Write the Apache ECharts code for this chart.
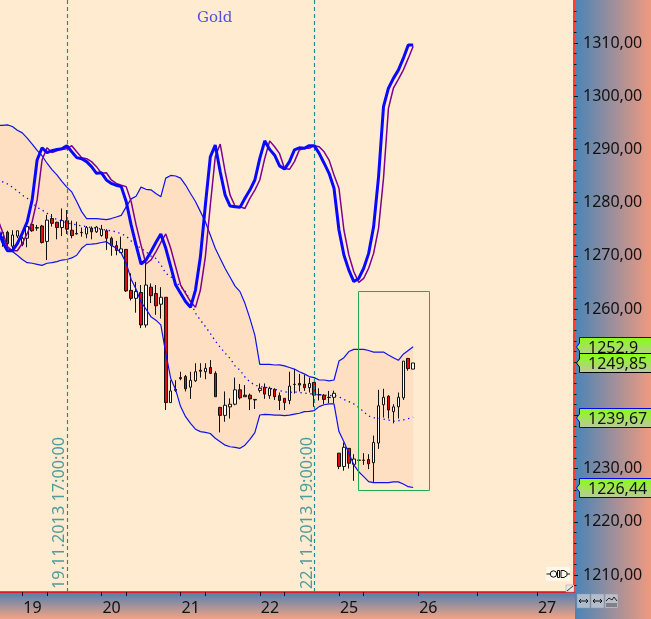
<!DOCTYPE html>
<html><head><meta charset="utf-8">
<style>html,body{margin:0;padding:0;background:#ffecd0}#c{width:651px;height:619px}</style>
<script src="https://cdn.jsdelivr.net/npm/echarts@6/dist/echarts.min.js"></script>
</head><body><div id="c"></div>
<script>
const title = 'Gold';
// one slot per candle step; first slot lies just off the left edge
const daySlots = {5:'19',21:'20',37:'21',53:'22',69:'25',85:'26',109:'27'};
const tickSlots = [5,10,21,26,37,42,53,58,69,74,85,97,109];
const slotCount = 117;
// [open, close, low, high]
const candles = [
['-','-','-','-'],
[1272.65,1274.4,1271.7,1274.4],[1274.4,1272.3,1271.4,1274.7],[1271.8,1273.9,1271.1,1274.8],[1273.7,1274.7,1273.3,1274.7],
[1272.15,1273.3,1271.8,1273.6],[1273.3,1275.5,1271.6,1275.8],[1275.9,1274.7,1274.5,1276.1],[1275.3,1275.2,1274.7,1275.8],
[1275.6,1272.5,1272.3,1275.8],[1272.7,1276.7,1269.2,1277.7],[1277.0,1276.1,1275.5,1277.85],[1276.3,1275.3,1273.1,1276.4],
[1275.3,1276.6,1273.7,1278.9],[1276.6,1275.0,1274.1,1278.6],[1274.8,1273.8,1273.3,1276.6],[1274.2,1274.1,1274.0,1276.4],
[1274.4,1274.35,1273.6,1275.3],[1274.1,1275.3,1273.3,1275.6],[1275.2,1274.5,1273.1,1275.5],[1274.5,1275.4,1274.3,1275.6],
[1273.8,1275.0,1273.6,1275.8],[1274.7,1273.3,1271.1,1275.0],[1273.3,1271.9,1270.0,1273.6],[1271.9,1271.0,1270.1,1272.8],
[1270.6,1271.3,1270.5,1273.6],[1271.2,1263.4,1263.2,1271.2],[1263.5,1262.0,1261.6,1266.7],[1262.0,1263.3,1259.3,1265.1],
[1263.1,1257.0,1256.4,1264.5],[1257.0,1264.5,1256.5,1269.2],[1264.1,1262.5,1261.1,1264.8],[1262.9,1260.6,1258.9,1264.5],
[1260.9,1262.2,1258.2,1264.1],[1262.2,1242.4,1241.0,1262.2],[1242.4,1244.6,1242.4,1246.6],[1244.9,1244.7,1244.4,1246.6],
[1247.1,1246.9,1246.6,1248.2],[1247.3,1245.0,1244.5,1247.6],[1245.3,1246.6,1243.1,1248.2],[1246.5,1248.2,1246.3,1249.8],
[1248.5,1248.3,1247.1,1249.8],[1248.2,1248.85,1246.8,1249.8],[1249.0,1247.9,1247.8,1250.4],[1247.9,1243.5,1243.5,1248.3],
[1241.5,1240.0,1236.8,1241.6],[1240.0,1241.9,1238.8,1244.5],[1241.6,1242.1,1239.4,1243.2],[1242.1,1244.8,1241.9,1247.1],
[1244.8,1243.3,1243.0,1245.9],[1243.8,1243.5,1243.5,1245.7],[1243.8,1243.1,1241.0,1244.1],[1243.0,1242.9,1241.2,1243.0],
[1244.7,1245.1,1244.3,1246.0],[1245.3,1244.0,1243.1,1246.0],[1243.7,1245.1,1243.1,1245.4],[1244.9,1243.5,1242.9,1245.1],
[1243.7,1242.8,1241.0,1244.3],[1243.2,1242.4,1241.0,1243.2],[1242.8,1245.5,1242.1,1248.2],[1245.85,1245.8,1244.1,1248.7],
[1246.0,1245.7,1244.5,1247.8],[1245.85,1245.2,1244.6,1247.6],[1245.2,1246.0,1244.3,1247.1],[1246.2,1243.8,1241.6,1246.2],
[1243.9,1243.85,1242.8,1245.1],[1243.8,1243.0,1242.1,1244.0],[1243.4,1243.35,1242.3,1244.6],[1243.4,1244.15,1242.3,1244.65],
[1232.9,1230.4,1229.9,1232.9],[1230.4,1234.0,1229.6,1234.9],[1233.8,1231.0,1230.0,1233.8],[1230.8,1231.8,1227.7,1232.7],
[1231.6,1231.55,1231.3,1231.9],[1231.6,1231.55,1230.7,1232.9],[1231.7,1230.9,1229.9,1232.7],[1231.1,1234.9,1227.5,1236.2],
[1234.8,1241.8,1233.7,1244.8],[1242.0,1243.4,1239.6,1245.0],[1243.6,1241.0,1239.4,1243.8],[1240.7,1241.6,1238.5,1242.1],
[1241.6,1243.4,1239.4,1244.3],[1243.3,1250.2,1242.9,1250.2],[1250.7,1248.8,1248.4,1250.8],[1248.7,1249.85,1248.7,1249.85]
];
const upperBand = [1294.5,1294.5,1294.6,1294.3,1293.6,1293.1,1292.1,1291.0,1289.8,1288.8,1287.4,1286.2,1285.2,1284.0,1282.9,1282.0,1280.2,1278.3,1277.0,1277.0,1277.0,1276.9,1276.8,1277.0,1277.3,1277.6,1279.2,1280.7,1281.2,1282.9,1282.5,1282.4,1281.7,1281.1,1284.6,1285.1,1285.0,1284.6,1283.3,1281.7,1280.2,1278.3,1276.4,1273.9,1271.4,1269.5,1267.6,1265.95,1264.3,1263.26,1261.06,1258.24,1255.1,1249.6,1249.6,1249.6,1249.47,1249.5,1249.3,1249.0,1248.7,1248.2,1247.8,1247.3,1247.1,1246.65,1246.65,1246.5,1246.65,1250.2,1250.85,1252.0,1252.4,1252.4,1252.4,1252.2,1251.9,1251.9,1251.9,1251.35,1250.85,1250.35,1251.5,1252.2,1252.9];
const lowerBand = [1274.8,1273.5,1271.7,1270.8,1270.1,1269.3,1268.7,1268.6,1268.4,1268.2,1268.6,1268.7,1268.9,1269.2,1269.3,1269.6,1270.1,1271.4,1272.15,1272.2,1272.3,1272.5,1272.65,1272.0,1271.4,1270.5,1268.6,1265.6,1263.7,1261.3,1260.0,1258.55,1257.9,1257.0,1251.7,1246.95,1244.8,1241.65,1239.75,1238.5,1237.4,1236.95,1236.8,1236.6,1235.7,1235.05,1234.4,1234.1,1234.0,1233.8,1234.4,1235.5,1236.75,1240.07,1240.2,1240.15,1240.05,1240.05,1239.95,1240.05,1240.25,1240.4,1240.7,1240.75,1240.9,1241.65,1242.0,1242.15,1242.15,1236.95,1235.05,1232.9,1230.7,1229.4,1228.5,1227.55,1227.35,1227.35,1227.35,1227.35,1227.5,1227.5,1227.1,1226.6,1226.44];
const midBand = [1284.3,1283.9,1283.5,1282.9,1282.2,1281.4,1280.8,1280.0,1279.1,1278.6,1278.0,1277.3,1276.8,1276.6,1276.2,1276.0,1275.8,1275.6,1275.5,1275.3,1275.2,1275.0,1274.8,1274.7,1274.5,1274.1,1273.7,1272.8,1272.0,1271.4,1270.8,1269.95,1269.5,1268.3,1266.7,1266.1,1265.1,1264.2,1263.3,1261.4,1259.2,1257.9,1256.7,1255.4,1254.0,1252.8,1251.7,1250.7,1249.3,1248.5,1247.2,1246.3,1245.7,1245.4,1245.3,1245.1,1244.9,1244.65,1244.45,1244.3,1244.4,1244.3,1244.2,1244.1,1243.95,1243.9,1243.8,1243.7,1243.8,1243.5,1243.0,1242.6,1242.15,1241.5,1240.7,1239.9,1239.55,1239.45,1239.3,1239.15,1238.9,1239.0,1239.15,1239.4,1239.67];
const fastLine = [1275.2,1272.65,1270.95,1270.95,1272.3,1274.2,1276.4,1280.5,1288.0,1290.3,1289.4,1289.75,1290.0,1290.1,1290.7,1289.55,1288.45,1288.25,1287.7,1286.75,1285.5,1285.6,1284.25,1283.6,1283.25,1283.0,1280.2,1275.8,1272.0,1268.45,1269.2,1270.75,1272.5,1274.1,1271.4,1267.95,1264.5,1262.95,1261.4,1260.3,1263.56,1269.8,1279.5,1288.6,1290.8,1285.8,1281.4,1279.35,1279.2,1279.1,1280.8,1282.35,1284.25,1288.3,1291.6,1290.0,1288.9,1286.9,1286.3,1287.7,1289.9,1290.3,1290.2,1290.7,1290.7,1289.25,1287.4,1285.5,1282.7,1274.85,1270.15,1267.3,1265.15,1265.75,1267.65,1270.45,1275.45,1284.85,1298.05,1301.5,1303.35,1304.9,1307.1,1309.6,1309.6];
const slowLine = [1277.0,1274.5,1271.7,1270.95,1270.95,1272.3,1274.2,1276.4,1280.5,1288.0,1290.3,1289.4,1289.75,1290.0,1290.1,1290.7,1289.55,1288.45,1288.25,1287.7,1286.75,1285.5,1285.6,1284.25,1283.6,1283.25,1283.0,1280.2,1275.8,1272.0,1268.45,1269.2,1270.75,1272.5,1274.1,1271.4,1267.95,1264.5,1262.95,1261.4,1260.3,1263.56,1269.8,1279.5,1288.6,1291.0,1285.8,1281.4,1279.35,1279.2,1278.9,1280.8,1282.35,1284.25,1288.3,1291.6,1290.5,1289.2,1286.4,1286.25,1287.7,1289.9,1290.2,1290.2,1290.7,1290.5,1289.55,1288.0,1285.2,1282.7,1274.85,1270.15,1267.0,1265.0,1265.75,1267.65,1270.45,1275.15,1284.55,1297.7,1301.5,1303.15,1304.9,1307.1,1309.4];
const yMajorTicks = [1210,1220,1230,1240,1250,1260,1270,1280,1290,1300,1310];
const yLabelTicks = [1210,1220,1230,1260,1270,1280,1290,1300,1310];
const yMinorTicks = [1208,1212,1214,1216,1218,1222,1224,1226,1228,1232,1234,1236,1238,1242,1244,1246,1248,1252,1254,1256,1258,1262,1264,1266,1268,1272,1274,1276,1278,1282,1284,1286,1288,1292,1294,1296,1298,1302,1304,1306,1308,1312,1314,1316];
const priceTags = [[1252.86,'1252,9','#0000ee'],[1239.55,'1239,67','#0000ee'],[1226.35,'1226,44','#0000ee'],[1249.76,'1249,85','#000000']];
const timeMarkers = [[14,'19.11.2013 17:00:00'],[64,'22.11.2013 19:00:00']];
// [x from, x to (slot units on the hidden axis), y top, y bottom]
const forecastBox = [73.3,87.7,1263.3,1225.8];

const FONT = '"Noto Sans"';
const categories = Array.from({length:slotCount},(_,i)=>daySlots[i]||'');
const fmtY = v => v.toFixed(2).replace('.',',');
const bandBase = lowerBand;
const bandSpan = upperBand.map((v,i)=>+(v-lowerBand[i]).toFixed(2));
const G = echarts.graphic;
const chart = echarts.init(document.getElementById('c'),null,{renderer:'canvas',width:651,height:619});

const btn=(x)=>({type:'rect',shape:{x:x,y:594,width:13,height:14},style:{fill:'rgba(200,205,215,0.75)',stroke:'#8f9aaa',lineWidth:0.5},z:60});
const ln=(a,b,c,d,col)=>({type:'line',shape:{x1:a,y1:b,x2:c,y2:d},style:{stroke:col||'#111',lineWidth:1},z:61});
const poly=(pts,col)=>({type:'polyline',shape:{points:pts},style:{fill:'none',stroke:col||'#111',lineWidth:1},z:61});

chart.setOption({
  animation:false,
  backgroundColor:'#ffecd0',
  title:{text:title,left:192,top:6,textStyle:{color:'#5050e0',fontFamily:'"DejaVu Serif"',fontSize:15,fontWeight:'normal'}},
  graphic:{elements:[
    {type:'rect',shape:{x:0,y:592,width:575,height:27},z:-5,silent:true,style:{fill:new G.LinearGradient(0,0,0,1,[{offset:0,color:'#4d7fb0'},{offset:1,color:'#f4a484'}])}},
    {type:'rect',shape:{x:575,y:0,width:76,height:619},z:-5,silent:true,style:{fill:new G.LinearGradient(0,0,1,0,[{offset:0,color:'#4a84b6'},{offset:1,color:'#f09a80'}])}},
    {type:'rect',shape:{x:546,y:567,width:24,height:14},style:{fill:'#fff7ea'},z:60},
    ln(546.5,574,550.5,574),ln(567,574,570,574),
    {type:'circle',shape:{cx:553.5,cy:574,r:3.2},style:{fill:'none',stroke:'#111',lineWidth:1},z:61},
    {type:'rect',shape:{x:557.5,y:570.5,width:2,height:7},style:{fill:'none',stroke:'#111',lineWidth:1},z:61},
    poly([[561,570.5],[564,570.5],[567,572.5],[567,575.5],[564,577.5],[561,577.5],[561,570.5]]),
    {type:'rect',shape:{x:566,y:585,width:8,height:7},style:{fill:'#e8e8e8',stroke:'#999',lineWidth:0.5},z:60},
    ln(567,591,573,586,'#333'),
    btn(577),btn(591),btn(605),
    ln(579,601,588,601),ln(593,601,602,601),
    ln(581,599,579,601),ln(581,603,579,601),ln(586,599,588,601),ln(586,603,588,601),
    ln(595,599,593,601),ln(595,603,593,601),ln(600,599,602,601),ln(600,603,602,601),
    poly([[606,601],[609,598],[612,600],[614,597],[617,601]],'#222'),
    ln(606,604,617,604,'#444'),ln(606,606,617,606,'#444')
  ]},
  grid:{left:-4.94,top:0,width:578.94,height:592,containLabel:false,outerBoundsMode:'none'},
  xAxis:[
    {type:'category',data:categories,boundaryGap:true,position:'bottom',
     axisLine:{show:true,lineStyle:{color:'#ff0000',width:1.5}},
     axisTick:{show:true,alignWithLabel:true,length:4,inside:false,interval:(i)=>tickSlots.includes(i),lineStyle:{color:'#111',width:1}},
     axisLabel:{show:true,interval:(i,v)=>v!=='',align:'left',margin:8,padding:[0,0,0,1],color:'#111',fontFamily:FONT,fontSize:16,hideOverlap:false},
     splitLine:{show:false}},
    {type:'value',show:false,min:0,max:slotCount}
  ],
  yAxis:[
    {type:'value',position:'right',min:1206.8,max:1318.08,scale:true,
     axisLine:{show:true,onZero:false,lineStyle:{color:'#ff0000',width:1.5}},
     axisTick:{show:true,length:4,customValues:yMajorTicks,lineStyle:{color:'#111'}},
     axisLabel:{show:true,margin:9,verticalAlign:'middle',padding:[6,0,0,0],customValues:yLabelTicks,formatter:fmtY,color:'#111',fontFamily:FONT,fontSize:16},
     splitLine:{show:false}},
    {type:'value',position:'left',offset:-578.94,min:1206.8,max:1318.08,scale:true,
     axisLine:{show:false,onZero:false},
     axisTick:{show:true,inside:true,length:2.5,customValues:yMinorTicks,lineStyle:{color:'#111'}},
     axisLabel:{show:false},splitLine:{show:false}}
  ],
  series:[
    {type:'line',name:'base',data:bandBase,stack:'band',symbol:'none',lineStyle:{opacity:0},areaStyle:{opacity:0},z:1,silent:true},
    {type:'line',name:'span',data:bandSpan,stack:'band',symbol:'none',lineStyle:{opacity:0},areaStyle:{color:'#ffdfc2',opacity:1},z:1,silent:true},
    {type:'candlestick',data:candles,barWidth:3,z:3,silent:true,
     itemStyle:{color:'#ffffff',color0:'#e60a0a',borderColor:'#111',borderColor0:'#111',borderWidth:1}},
    {type:'line',name:'upper',data:upperBand,symbol:'none',lineStyle:{color:'#1010f0',width:1.2},z:4,silent:true},
    {type:'line',name:'lower',data:lowerBand,symbol:'none',lineStyle:{color:'#1010f0',width:1.2},z:4,silent:true},
    {type:'line',name:'mid',data:midBand,symbol:'none',lineStyle:{color:'#0000ff',width:1.3,type:[1.3,3.7]},z:4,silent:true,
     markLine:{silent:true,symbol:'none',animation:false,
       lineStyle:{color:'#1f9090',width:1.2,type:[4,3]},
       data:timeMarkers.map(m=>({xAxis:m[0],label:{show:true,formatter:m[1],position:'insideStartTop',distance:[3,-1],color:'#4f9a9c',fontFamily:FONT,fontSize:16.3}}))}},
    {type:'line',name:'slow',data:slowLine,symbol:'none',lineStyle:{color:'#800090',width:1.5},z:5,silent:true},
    {type:'line',name:'fast',data:fastLine,symbol:'none',lineStyle:{color:'#0808ff',width:3},z:6,silent:true},
    {type:'custom',name:'box',xAxisIndex:1,yAxisIndex:0,z:7,silent:true,data:[forecastBox],
     encode:{x:[0,1],y:[2,3]},
     renderItem:(p,api)=>{const a=api.coord([api.value(0),api.value(2)]),b=api.coord([api.value(1),api.value(3)]);
       return {type:'rect',shape:{x:Math.round(a[0])+.5,y:Math.round(a[1])+.5,width:Math.round(b[0]-a[0]),height:Math.round(b[1]-a[1])},style:{fill:'none',stroke:'#28a850',lineWidth:1}};}},
    {type:'custom',name:'tags',xAxisIndex:0,yAxisIndex:0,z:50,silent:true,clip:false,data:priceTags.map(t=>t[0]),
     encode:{y:0},
     renderItem:(p,api)=>{const t=priceTags[p.dataIndex];const y=Math.round(api.coord([0,t[0]])[1]);
       return {type:'group',children:[
         {type:'polygon',shape:{points:[[576.5,y],[579.5,y-4],[579.5,y-9.5],[652,y-9.5],[652,y+9.5],[579.5,y+9.5],[579.5,y+4]]},
          style:{fill:new G.LinearGradient(0,0,0,1,[{offset:0,color:'#88ff10'},{offset:1,color:'#bcc8a0'}]),stroke:t[2],lineWidth:1}},
         {type:'text',style:{x:588,y:y+1,text:t[1],fill:'#111',font:'16px '+FONT,verticalAlign:'middle'}}
       ]};}}
  ]
});
</script></body></html>
